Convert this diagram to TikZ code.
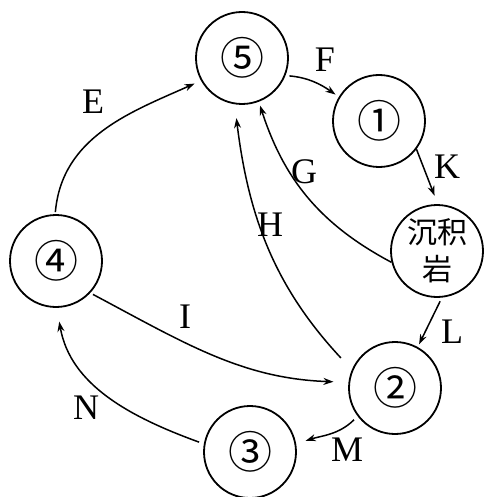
\documentclass[tikz,border=0pt]{standalone}
\usepackage{fontspec}
\setmainfont{Liberation Serif}
\newfontfamily\cjk{Noto Sans CJK SC}
\usetikzlibrary{arrows.meta}

\begin{document}
\begin{tikzpicture}[x=1pt, y=-1pt, line width=1.5pt, >={Stealth[length=10pt, width=7pt]},
	rock/.style = {draw, circle, minimum size=92pt, inner sep=0pt, line width=1.8pt},
	num/.style = {font=\cjk\fontsize{44}{44}\selectfont},
	lbl/.style = {font=\fontsize{36}{36}\selectfont}]
	\useasboundingbox (0,0) rectangle (484,497);
	% rocks
	\node[rock, num] (5) at (242,58) {⑤};
	\node[rock, num] (1) at (379,121) {①};
	\node[rock, align=center, font=\cjk\fontsize{30}{37}\selectfont] (s) at (437,251) {沉积\\岩};
	\node[rock, num] (4) at (56,261) {④};
	\node[rock, num] (2) at (395,388) {②};
	\node[rock, num] (3) at (250,452) {③};
	% labels
	\node[lbl] (E) at (93,102) {E};
	\node[lbl] (F) at (325,60) {F};
	\node[lbl] (G) at (304,172) {G};
	\node[lbl] (K) at (447,167) {K};
	\node[lbl] (H) at (270,225) {H};
	\node[lbl] (I) at (185,317) {I};
	\node[lbl] (L) at (452,332) {L};
	\node[lbl] (M) at (347,450) {M};
	\node[lbl] (N) at (86,408) {N};
	% arrows
	\draw[->, shorten <=2pt, shorten >=7pt] (4.91) to[out=85, in=204] (5.209);
	\draw[->, shorten <=4pt, shorten >=4pt] (5.-22) to[out=-5, in=145] (1.149);
	\draw[->, shorten >=9pt] (1.-37) -- (s.89);
	\draw[->, shorten >=4pt] (s.194) to[out=152, in=-72] (5.291);
	\draw[->, shorten <=16pt, shorten >=14pt] (2.157) to[out=133, in=-83] (5.261);
	\draw[->, shorten <=4pt, shorten >=3pt] (s.-84) -- (2.61);
	\draw[->, shorten <=3pt, shorten >=15pt] (4.-43) to[out=-28, in=178] (2.173);
	\draw[->, shorten <=5pt, shorten >=10pt] (2.217) to[out=225, in=18] (3.10);
	\draw[->, shorten <=5pt, shorten >=14pt] (3.170) to[out=160, in=-80] (4.-89);
\end{tikzpicture}
\end{document}
